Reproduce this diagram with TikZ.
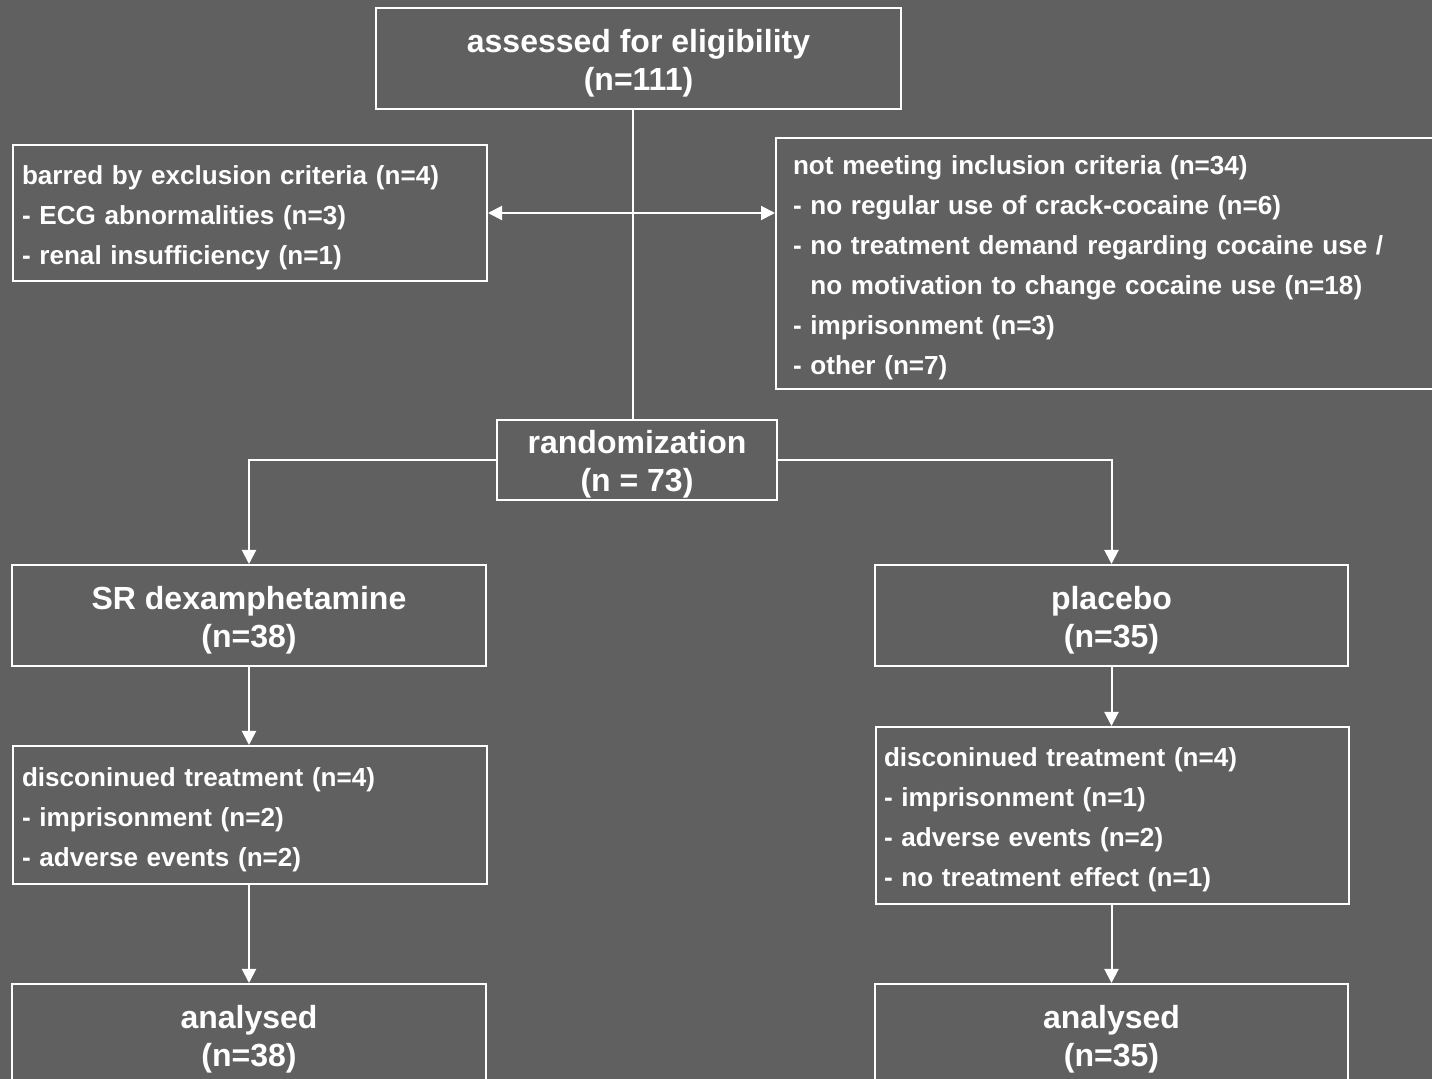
\documentclass[tikz,border=0pt]{standalone}
\usepackage{fontspec}
\setmainfont{Liberation Sans}
\usetikzlibrary{arrows.meta}
\definecolor{bggray}{RGB}{96,96,96}
\newcommand{\bigtop}{\rule{0pt}{16.2pt}}
\newcommand{\listtop}{\rule{0pt}{13.9pt}}
\tikzset{
  bigbox/.style={draw=white, line width=1pt, rectangle, text=white, align=center, font=\bfseries\fontsize{16}{19}\selectfont, inner sep=0pt},
  listbox/.style={draw=white, line width=1pt, rectangle, text=white, align=left, font=\bfseries\fontsize{13.05}{20}\selectfont, inner ysep=0pt, anchor=north west},
  flow/.style={draw=white, line width=1pt},
  >={Triangle[length=7pt,width=7pt]}
}
\begin{document}
\begin{tikzpicture}[x=0.5pt, y=-0.5pt]
\useasboundingbox (0,0) rectangle (1432,1079);
\fill[bggray] (0,0) rectangle (1432,1079);
\node[bigbox, minimum width=262.5pt, minimum height=50.5pt] (assess) at (638.5,58.5) {\bigtop assessed for eligibility\\(n=111)};
\node[listbox, inner xsep=4.5pt, text width=228pt, minimum height=68pt] (excl) at (12,144) {\listtop barred by exclusion criteria (n=4)\\
-~ECG abnormalities (n=3)\\
-~renal insufficiency (n=1)};
\node[listbox, inner xsep=8.5pt, text width=316pt, minimum height=125.5pt] (incl) at (775,137) {\listtop not meeting inclusion criteria (n=34)\\
-~no regular use of crack-cocaine (n=6)\\
-~no treatment demand regarding cocaine use /\\
\hphantom{-~}no motivation to change cocaine use (n=18)\\
-~imprisonment (n=3)\\
-~other (n=7)};
\node[bigbox, minimum width=140pt, minimum height=40pt] (rand) at (637,460) {\bigtop randomization\\(n = 73)};
\node[bigbox, minimum width=237pt, minimum height=50.5pt] (dexa) at (249,615.5) {\bigtop SR dexamphetamine\\(n=38)};
\node[bigbox, minimum width=236.5pt, minimum height=50.5pt] (plac) at (1111.5,615.5) {\bigtop placebo\\(n=35)};
\node[listbox, inner xsep=4.5pt, text width=228pt, minimum height=69pt] (discL) at (12,745) {\listtop disconinued treatment (n=4)\\
-~imprisonment (n=2)\\
-~adverse events (n=2)};
\node[listbox, inner xsep=4pt, text width=228.5pt, minimum height=88.5pt] (discR) at (875,726) {\listtop disconinued treatment (n=4)\\
-~imprisonment (n=1)\\
-~adverse events (n=2)\\
-~no treatment effect (n=1)};
\node[bigbox, minimum width=237pt, minimum height=50.5pt] (anaL) at (249,1034.5) {\bigtop analysed\\(n=38)};
\node[bigbox, minimum width=236.5pt, minimum height=50.5pt] (anaR) at (1111.5,1034.5) {\bigtop analysed\\(n=35)};
\coordinate (junc) at (633,212);
\draw[flow] (assess.south -| junc) -- (rand.north -| junc);
\draw[flow, <->] (excl.east) -- (excl.east -| incl.west);
\draw[flow, ->] (rand.west) -| (dexa.north);
\draw[flow, ->] (rand.east) -| (plac.north);
\draw[flow, ->] (dexa.south) -- (dexa.south |- discL.north);
\draw[flow, ->] (plac.south) -- (plac.south |- discR.north);
\draw[flow, ->] (dexa.south |- discL.south) -- (anaL.north);
\draw[flow, ->] (plac.south |- discR.south) -- (anaR.north);
\end{tikzpicture}
\end{document}
